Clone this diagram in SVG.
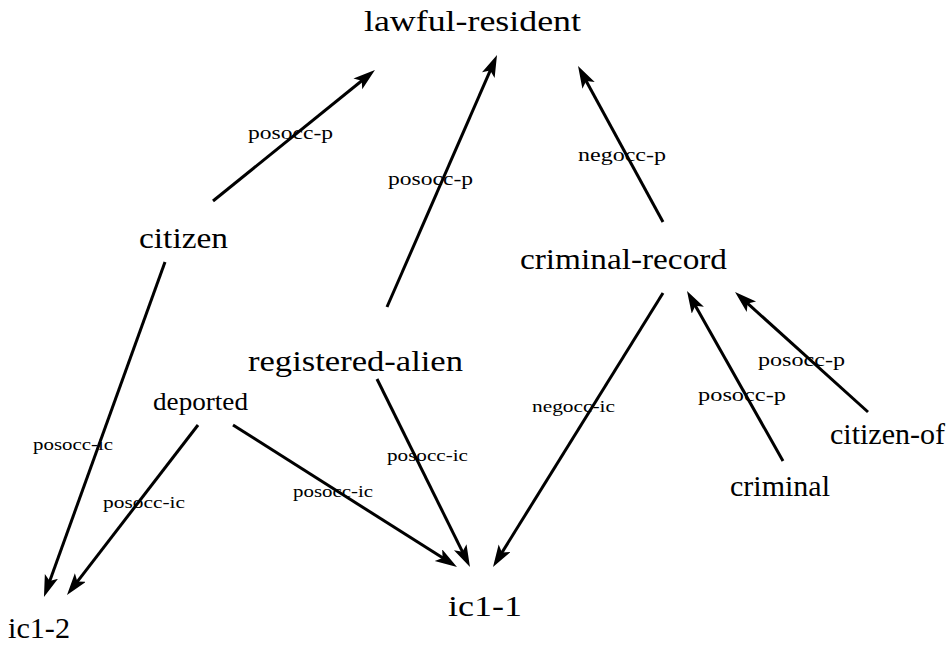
<svg xmlns="http://www.w3.org/2000/svg" width="946" height="645" viewBox="0 0 946 645">
<style>
.node{font-family:"Liberation Serif","Times New Roman",serif;font-size:30px;fill:#000}
.lbl{font-family:"Liberation Serif","Times New Roman",serif;font-size:19px;fill:#000}
.lbs{font-family:"Liberation Serif","Times New Roman",serif;font-size:17px;fill:#000}
.edge{stroke:#000;stroke-width:3;fill:none}
</style>
<defs>
<marker id="arr" markerUnits="userSpaceOnUse" markerWidth="24" markerHeight="16" refX="11" refY="7" orient="auto">
<path d="M0,0 L22,7 L0,14 L5,7 Z" fill="#000"/>
</marker>
</defs>
<rect width="946" height="645" fill="#fff"/>
<g id="connectors">
<line class="edge" x1="213" y1="201" x2="366.4" y2="77" marker-end="url(#arr)"/>
<line class="edge" x1="387" y1="307" x2="492.6" y2="65.1" marker-end="url(#arr)"/>
<line class="edge" x1="663" y1="222" x2="583.3" y2="75.7" marker-end="url(#arr)"/>
<line class="edge" x1="165" y1="262" x2="47.7" y2="586.7" marker-end="url(#arr)"/>
<line class="edge" x1="198" y1="425" x2="73.7" y2="586.3" marker-end="url(#arr)"/>
<line class="edge" x1="233" y1="425" x2="447.7" y2="561.1" marker-end="url(#arr)"/>
<line class="edge" x1="377" y1="379" x2="465.1" y2="557.1" marker-end="url(#arr)"/>
<line class="edge" x1="663" y1="293" x2="498.8" y2="557.6" marker-end="url(#arr)"/>
<line class="edge" x1="783" y1="461" x2="692.4" y2="300.6" marker-end="url(#arr)"/>
<line class="edge" x1="868" y1="412" x2="743.2" y2="299.4" marker-end="url(#arr)"/>
<text class="lbl" x="248" y="139" textLength="85" lengthAdjust="spacingAndGlyphs">posocc-p</text>
<text class="lbl" x="388" y="185" textLength="85" lengthAdjust="spacingAndGlyphs">posocc-p</text>
<text class="lbl" x="578" y="161" textLength="88" lengthAdjust="spacingAndGlyphs">negocc-p</text>
<text class="lbs" x="33" y="450" textLength="80" lengthAdjust="spacingAndGlyphs">posocc-ic</text>
<text class="lbs" x="103" y="508" textLength="82" lengthAdjust="spacingAndGlyphs">posocc-ic</text>
<text class="lbs" x="293" y="497" textLength="80" lengthAdjust="spacingAndGlyphs">posocc-ic</text>
<text class="lbs" x="387" y="461" textLength="81" lengthAdjust="spacingAndGlyphs">posocc-ic</text>
<text class="lbs" x="532" y="412" textLength="83" lengthAdjust="spacingAndGlyphs">negocc-ic</text>
<text class="lbl" x="698" y="401" textLength="88" lengthAdjust="spacingAndGlyphs">posocc-p</text>
<text class="lbl" x="758" y="366" textLength="87" lengthAdjust="spacingAndGlyphs">posocc-p</text>
</g>
<g id="lawful-resident"><text class="node" x="364" y="31" textLength="217" lengthAdjust="spacingAndGlyphs">lawful-resident</text></g>
<g id="citizen"><text class="node" x="139" y="248" textLength="89" lengthAdjust="spacingAndGlyphs">citizen</text></g>
<g id="criminal-record"><text class="node" x="520" y="269" textLength="207" lengthAdjust="spacingAndGlyphs">criminal-record</text></g>
<g id="registered-alien"><text class="node" x="248" y="371" textLength="215" lengthAdjust="spacingAndGlyphs">registered-alien</text></g>
<g id="deported"><text class="node" style="font-size:26px" x="153" y="410" textLength="95" lengthAdjust="spacingAndGlyphs">deported</text></g>
<g id="criminal"><text class="node" x="730" y="496" textLength="100" lengthAdjust="spacingAndGlyphs">criminal</text></g>
<g id="citizen-of"><text class="node" x="830" y="444" textLength="115" lengthAdjust="spacingAndGlyphs">citizen-of</text></g>
<g id="ic1-1"><text class="node" x="448" y="616" textLength="74" lengthAdjust="spacingAndGlyphs">ic1-1</text></g>
<g id="ic1-2"><text class="node" x="8" y="638" textLength="62" lengthAdjust="spacingAndGlyphs">ic1-2</text></g>
</svg>
